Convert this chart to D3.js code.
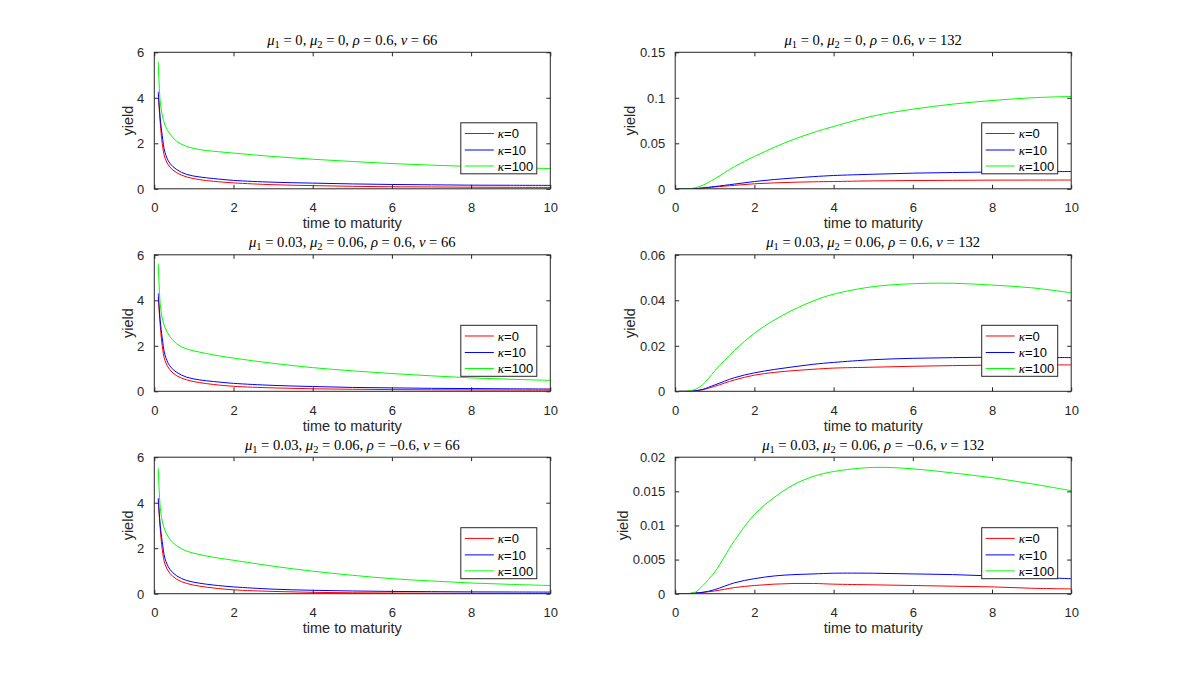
<!DOCTYPE html>
<html><head><meta charset="utf-8">
<script src="https://cdn.jsdelivr.net/npm/d3@7/dist/d3.min.js"></script>
<style>body{margin:0;background:#fff}svg{display:block}</style>
</head><body>
<svg id="chart" width="1184" height="674"></svg>
<script>
// ---------------- data ----------------
const timesLeft  = [0.1, 0.15, 0.2, 0.27, 0.39, 0.57, 0.82, 1.15, 1.5, 2, 3, 4, 5, 6, 7, 8, 9, 10];
const timesRight = [0.1, 0.3, 0.5, 0.7, 1, 1.5, 2, 2.5, 3, 3.5, 4, 5, 6, 7, 8, 9, 10];

const xTicks = [0, 2, 4, 6, 8, 10];
const yTicksLeft = [0, 2, 4, 6];
const yTicksRight1 = [0, 0.05, 0.1, 0.15];
const yTicksRight2 = [0, 0.02, 0.04, 0.06];
const yTicksRight3 = [0, 0.005, 0.01, 0.015, 0.02];

const kappaLabels = ["0", "10", "100"];
const seriesColors = ["#ff0000", "#0000ff", "#00ff00"];

const mu1Values = ["0", "0.03", "0.03"];
const mu2Values = ["0", "0.06", "0.06"];
const rhoValues = ["0.6", "0.6", "\u22120.6"];
const vValues = ["66", "132"];

// row 1, v = 66
const p1Red   = [4.17, 2.9, 2.0, 1.35, 0.96, 0.7, 0.52, 0.4, 0.33, 0.26, 0.18, 0.14, 0.11, 0.09, 0.08, 0.07, 0.065, 0.06];
const p1Blue  = [4.27, 3.1, 2.35, 1.6, 1.13, 0.84, 0.63, 0.52, 0.45, 0.37, 0.29, 0.25, 0.215, 0.19, 0.175, 0.16, 0.155, 0.15];
const p1Green = [5.58, 3.82, 3.24, 2.8, 2.42, 2.08, 1.86, 1.72, 1.65, 1.57, 1.42, 1.3, 1.2, 1.11, 1.04, 0.98, 0.93, 0.89];
// row 1, v = 132
const p2Red   = [0, 0, 0.0002, 0.0008, 0.002, 0.0038, 0.0055, 0.0065, 0.0072, 0.0077, 0.008, 0.0087, 0.0091, 0.0093, 0.0095, 0.0096, 0.0096];
const p2Blue  = [0, 0, 0.0002, 0.001, 0.0025, 0.0052, 0.008, 0.0102, 0.0119, 0.0134, 0.0146, 0.016, 0.0172, 0.0179, 0.0184, 0.0187, 0.019];
const p2Green = [0, 0, 0.001, 0.004, 0.011, 0.0245, 0.0355, 0.0455, 0.0545, 0.062, 0.0685, 0.08, 0.0875, 0.093, 0.097, 0.1, 0.1015];
// row 2, v = 66
const p3Red   = [4.15, 2.9, 2.0, 1.35, 0.95, 0.68, 0.5, 0.38, 0.3, 0.22, 0.15, 0.11, 0.09, 0.075, 0.065, 0.06, 0.055, 0.05];
const p3Blue  = [4.3, 3.1, 2.35, 1.6, 1.12, 0.83, 0.62, 0.5, 0.43, 0.35, 0.26, 0.21, 0.17, 0.15, 0.13, 0.12, 0.11, 0.1];
const p3Green = [5.6, 3.82, 3.22, 2.8, 2.42, 2.08, 1.86, 1.72, 1.6, 1.46, 1.23, 1.04, 0.9, 0.78, 0.68, 0.59, 0.53, 0.48];
// row 2, v = 132
const p4Red   = [0, 0, 0.0002, 0.0007, 0.0022, 0.005, 0.0071, 0.0083, 0.0091, 0.0097, 0.0102, 0.0106, 0.011, 0.0113, 0.0115, 0.0116, 0.0116];
const p4Blue  = [0, 0, 0.0002, 0.0009, 0.0028, 0.006, 0.0081, 0.0096, 0.0108, 0.0119, 0.0127, 0.0139, 0.0145, 0.0148, 0.015, 0.0149, 0.0148];
const p4Green = [0, 0, 0.0008, 0.003, 0.009, 0.018, 0.0255, 0.0313, 0.036, 0.0398, 0.0427, 0.046, 0.0473, 0.0475, 0.0467, 0.0455, 0.0433];
// row 3, v = 66
const p5Red   = [4.1, 2.85, 1.95, 1.3, 0.9, 0.63, 0.45, 0.33, 0.25, 0.17, 0.1, 0.06, 0.04, 0.03, 0.02, 0.015, 0.01, 0.005];
const p5Blue  = [4.2, 3.0, 2.3, 1.55, 1.08, 0.78, 0.58, 0.46, 0.38, 0.3, 0.2, 0.15, 0.12, 0.1, 0.09, 0.08, 0.075, 0.07];
const p5Green = [5.52, 3.8, 3.2, 2.78, 2.4, 2.1, 1.87, 1.72, 1.6, 1.47, 1.21, 0.99, 0.81, 0.66, 0.56, 0.47, 0.41, 0.36];
// row 3, v = 132
const p6Red   = [0, 0, 0.0001, 0.0002, 0.0004, 0.0009, 0.0012, 0.0014, 0.0015, 0.0015, 0.0014, 0.0013, 0.0012, 0.0011, 0.001, 0.0008, 0.0007];
const p6Blue  = [0, 0, 0.0001, 0.0002, 0.0006, 0.0016, 0.0022, 0.0026, 0.0028, 0.0029, 0.003, 0.003, 0.0029, 0.0028, 0.0026, 0.0024, 0.0022];
const p6Green = [0, 0, 0.0002, 0.0012, 0.0032, 0.0078, 0.0116, 0.0141, 0.016, 0.0172, 0.0179, 0.0185, 0.0183, 0.0177, 0.017, 0.0161, 0.0151];

// ---------------- layout ----------------
const svg = d3.select("#chart");
const AX = "#262626";
const SANS = "'Liberation Sans', Arial, Helvetica, sans-serif";
const SERIF = "'Liberation Serif', 'Times New Roman', serif";
const colLeft = [154.3, 675.2];
const colWidth = 396;
const rowTop = [52.3, 254.8, 457.2];
const rowHeight = 136.5;

const panels = [
  {row: 0, col: 0, t: timesLeft,  series: [p1Red, p1Blue, p1Green], yMax: 6,    yTicks: yTicksLeft},
  {row: 0, col: 1, t: timesRight, series: [p2Red, p2Blue, p2Green], yMax: 0.15, yTicks: yTicksRight1},
  {row: 1, col: 0, t: timesLeft,  series: [p3Red, p3Blue, p3Green], yMax: 6,    yTicks: yTicksLeft},
  {row: 1, col: 1, t: timesRight, series: [p4Red, p4Blue, p4Green], yMax: 0.06, yTicks: yTicksRight2},
  {row: 2, col: 0, t: timesLeft,  series: [p5Red, p5Blue, p5Green], yMax: 6,    yTicks: yTicksLeft},
  {row: 2, col: 1, t: timesRight, series: [p6Red, p6Blue, p6Green], yMax: 0.02, yTicks: yTicksRight3},
];

panels.forEach((p, pi) => {
  const x0 = colLeft[p.col], y0 = rowTop[p.row];
  const W = colWidth, H = rowHeight;
  const g = svg.append("g").attr("transform", `translate(${x0},${y0})`);
  const x = d3.scaleLinear().domain([0, 10]).range([0, W]);
  const y = d3.scaleLinear().domain([0, p.yMax]).range([H, 0]);

  const clipId = "clip" + pi;
  g.append("clipPath").attr("id", clipId).append("rect").attr("x", 0).attr("y", -1).attr("width", W).attr("height", H + 1);

  // lines
  const line = d3.line().x(d => x(d[0])).y(d => y(d[1])).curve(d3.curveCatmullRom.alpha(0.5));
  p.series.forEach((vals, si) => {
    const pts = p.t.map((tt, i) => [tt, vals[i]]);
    g.append("path").attr("d", line(pts)).attr("fill", "none")
      .attr("stroke", seriesColors[si]).attr("stroke-width", 1).attr("clip-path", `url(#${clipId})`);
  });

  // axes (inside ticks, mirrored)
  const tl = 4;
  const xb = g.append("g").attr("transform", `translate(0,${H})`)
    .call(d3.axisBottom(x).tickValues(xTicks).tickSize(-tl).tickPadding(10 + tl).tickFormat(d3.format("d")));
  const xt = g.append("g").call(d3.axisTop(x).tickValues(xTicks).tickSize(-tl).tickFormat(""));
  const yl = g.append("g")
    .call(d3.axisLeft(y).tickValues(p.yTicks).tickSize(-tl).tickPadding(6 + tl).tickFormat(d => String(d)));
  const yr = g.append("g").attr("transform", `translate(${W},0)`)
    .call(d3.axisRight(y).tickValues(p.yTicks).tickSize(-tl).tickFormat(""));
  [xb, xt, yl, yr].forEach(a => {
    a.select(".domain").remove();
    a.selectAll("line").attr("stroke", AX).attr("stroke-width", 1);
    a.selectAll("text").attr("fill", AX).style("font-family", SANS).style("font-size", "13px");
  });
  xb.selectAll("text").attr("dy", "0.71em");
  yl.selectAll("text").attr("dy", "0.34em");

  // box
  g.append("rect").attr("x", 0).attr("y", 0).attr("width", W).attr("height", H)
    .attr("fill", "none").attr("stroke", AX).attr("stroke-width", 1);

  // x label
  g.append("text").attr("x", W / 2).attr("y", H + 39.5).attr("text-anchor", "middle")
    .attr("fill", AX).style("font-family", SANS).style("font-size", "14.5px").text("time to maturity");

  // y label, left of tick labels
  let minLeft = 0;
  yl.selectAll("text").each(function () {
    const b = this.getBBox();
    minLeft = Math.min(minLeft, b.x);
  });
  g.append("text").attr("transform", `translate(${minLeft - 4.5},${H / 2}) rotate(-90)`)
    .attr("text-anchor", "middle").attr("fill", AX)
    .style("font-family", SANS).style("font-size", "14.5px").text("yield");

  // title
  const v = vValues[p.col];
  const parts = [
    {s: "\u03bc", it: true}, {s: "1", sub: true}, {s: " = " + mu1Values[p.row] + ", "},
    {s: "\u03bc", it: true}, {s: "2", sub: true}, {s: " = " + mu2Values[p.row] + ", "},
    {s: "\u03c1", it: true}, {s: " = " + rhoValues[p.row] + ", "},
    {s: "v", it: true}, {s: " = " + v}
  ];
  const title = g.append("text").attr("x", W / 2).attr("y", -7.5).attr("text-anchor", "middle")
    .attr("fill", "#000").style("font-family", SERIF).style("font-size", "14.6px").style("white-space", "pre");
  let shifted = false;
  parts.forEach(pt => {
    const ts = title.append("tspan").text(pt.s);
    if (pt.it) ts.style("font-style", "italic");
    if (pt.sub) { ts.attr("dy", 3).style("font-size", "10.5px"); shifted = true; }
    else if (shifted) { ts.attr("dy", -3); shifted = false; }
  });

  // legend
  const lw = 76, lh = 51;
  const lx = W - 13.5 - lw, ly = H - 15 - lh;
  const lg = g.append("g").attr("transform", `translate(${lx},${ly})`);
  lg.append("rect").attr("width", lw).attr("height", lh).attr("fill", "#fff").attr("stroke", AX).attr("stroke-width", 1);
  const rowsY = [10.7, 27.2, 43.2];
  kappaLabels.forEach((k, i) => {
    lg.append("line").attr("x1", 4).attr("x2", 33).attr("y1", rowsY[i]).attr("y2", rowsY[i])
      .attr("stroke", seriesColors[i]).attr("stroke-width", 1);
    const tx = lg.append("text").attr("x", 37).attr("y", rowsY[i]).attr("dy", "0.36em")
      .attr("fill", "#000").style("font-family", SANS).style("font-size", "13px");
    tx.append("tspan").style("font-family", SERIF).style("font-style", "italic").text("\u03ba");
    tx.append("tspan").text("=" + k);
  });
});
</script>
</body></html>
